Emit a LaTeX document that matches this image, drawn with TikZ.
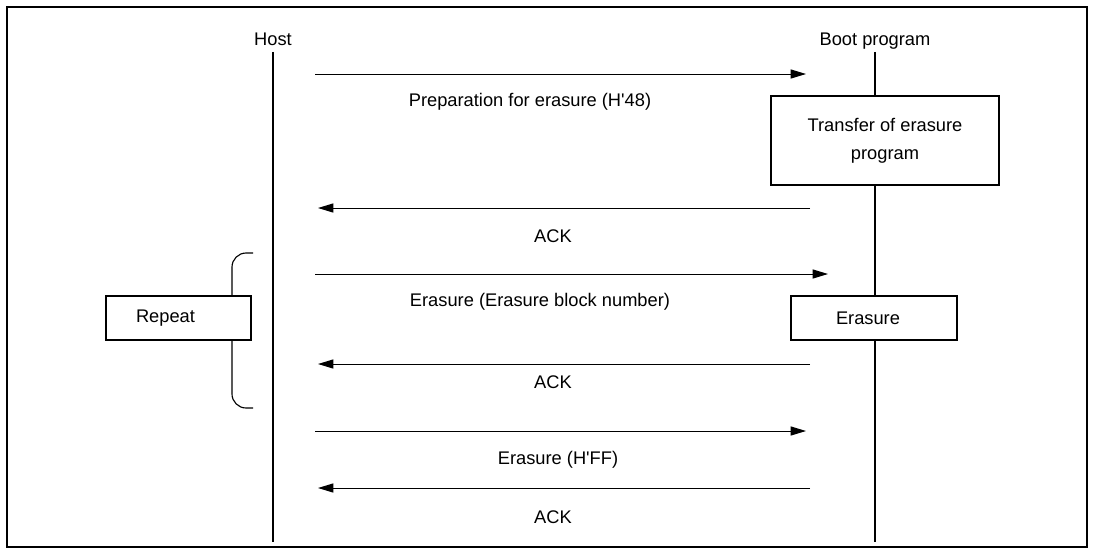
\documentclass[tikz,border=0pt]{standalone}
\usepackage{fontspec}
\setmainfont{Liberation Sans}
\usetikzlibrary{arrows.meta}

\begin{document}
\begin{tikzpicture}[x=0.025cm,y=-0.025cm,>={Triangle[length=11pt,width=6.5pt]},font=\fontsize{13}{16}\selectfont,lane/.style={text height=1.6ex,text depth=0.25ex},proc/.style={draw,line width=1.4pt,fill=white,align=center},msg/.style={->,line width=0.7pt},life/.style={line width=0.8pt}]
\useasboundingbox (0,0) rectangle (1094,554);
\draw[line width=1.5pt] (7,7) rectangle (1087,547);
% lifelines
\node[lane] (host) at (273,40) {Host};
\node[lane] (boot) at (875,40) {Boot program};
\coordinate (hostend) at (273,542);
\coordinate (bootend) at (875,542);
\draw[life] (host.south) -- (hostend);
\draw[life] (boot.south) -- (bootend);
% repeat bracket
\coordinate (bra) at (253,253);
\coordinate (brb) at (253,408);
\draw[life,rounded corners=10pt] (bra) -| (232,330) |- (brb);
\node[proc,minimum width=3.625cm,minimum height=1.1cm] (repeat) at (178.5,318) {Repeat\hspace*{0.65cm}};
% processing boxes
\node[proc,minimum width=5.7cm,minimum height=2.225cm] (transfer) at (885,140.5) {Transfer of erasure\\[4pt]program};
\node[proc,minimum width=4.15cm,minimum height=1.1cm] (erase) at (874,318) {Erasure\hspace*{0.3cm}};
% messages
\coordinate (prepa) at (315,74);  \coordinate (prepb) at (806,74);
\coordinate (ack1a) at (810,208); \coordinate (ack1b) at (318,208);
\coordinate (blka) at (315,274);  \coordinate (blkb) at (828,274);
\coordinate (ack2a) at (810,364); \coordinate (ack2b) at (318,364);
\coordinate (ffa) at (315,431);   \coordinate (ffb) at (806,431);
\coordinate (ack3a) at (810,488); \coordinate (ack3b) at (318,488);
\draw[msg] (prepa) -- (prepb);
\draw[msg] (ack1a) -- (ack1b);
\draw[msg] (blka) -- (blkb);
\draw[msg] (ack2a) -- (ack2b);
\draw[msg] (ffa) -- (ffb);
\draw[msg] (ack3a) -- (ack3b);
\node (prep) at (530,102) {Preparation for erasure (H\textquotesingle 48)};
\node (ack1) at (553,236) {ACK};
\node (blk) at (540,302) {Erasure (Erasure block number)};
\node (ack2) at (553,382) {ACK};
\node (ff) at (558,460) {Erasure (H\textquotesingle FF)};
\node (ack3) at (553,517) {ACK};
\end{tikzpicture}
\end{document}
